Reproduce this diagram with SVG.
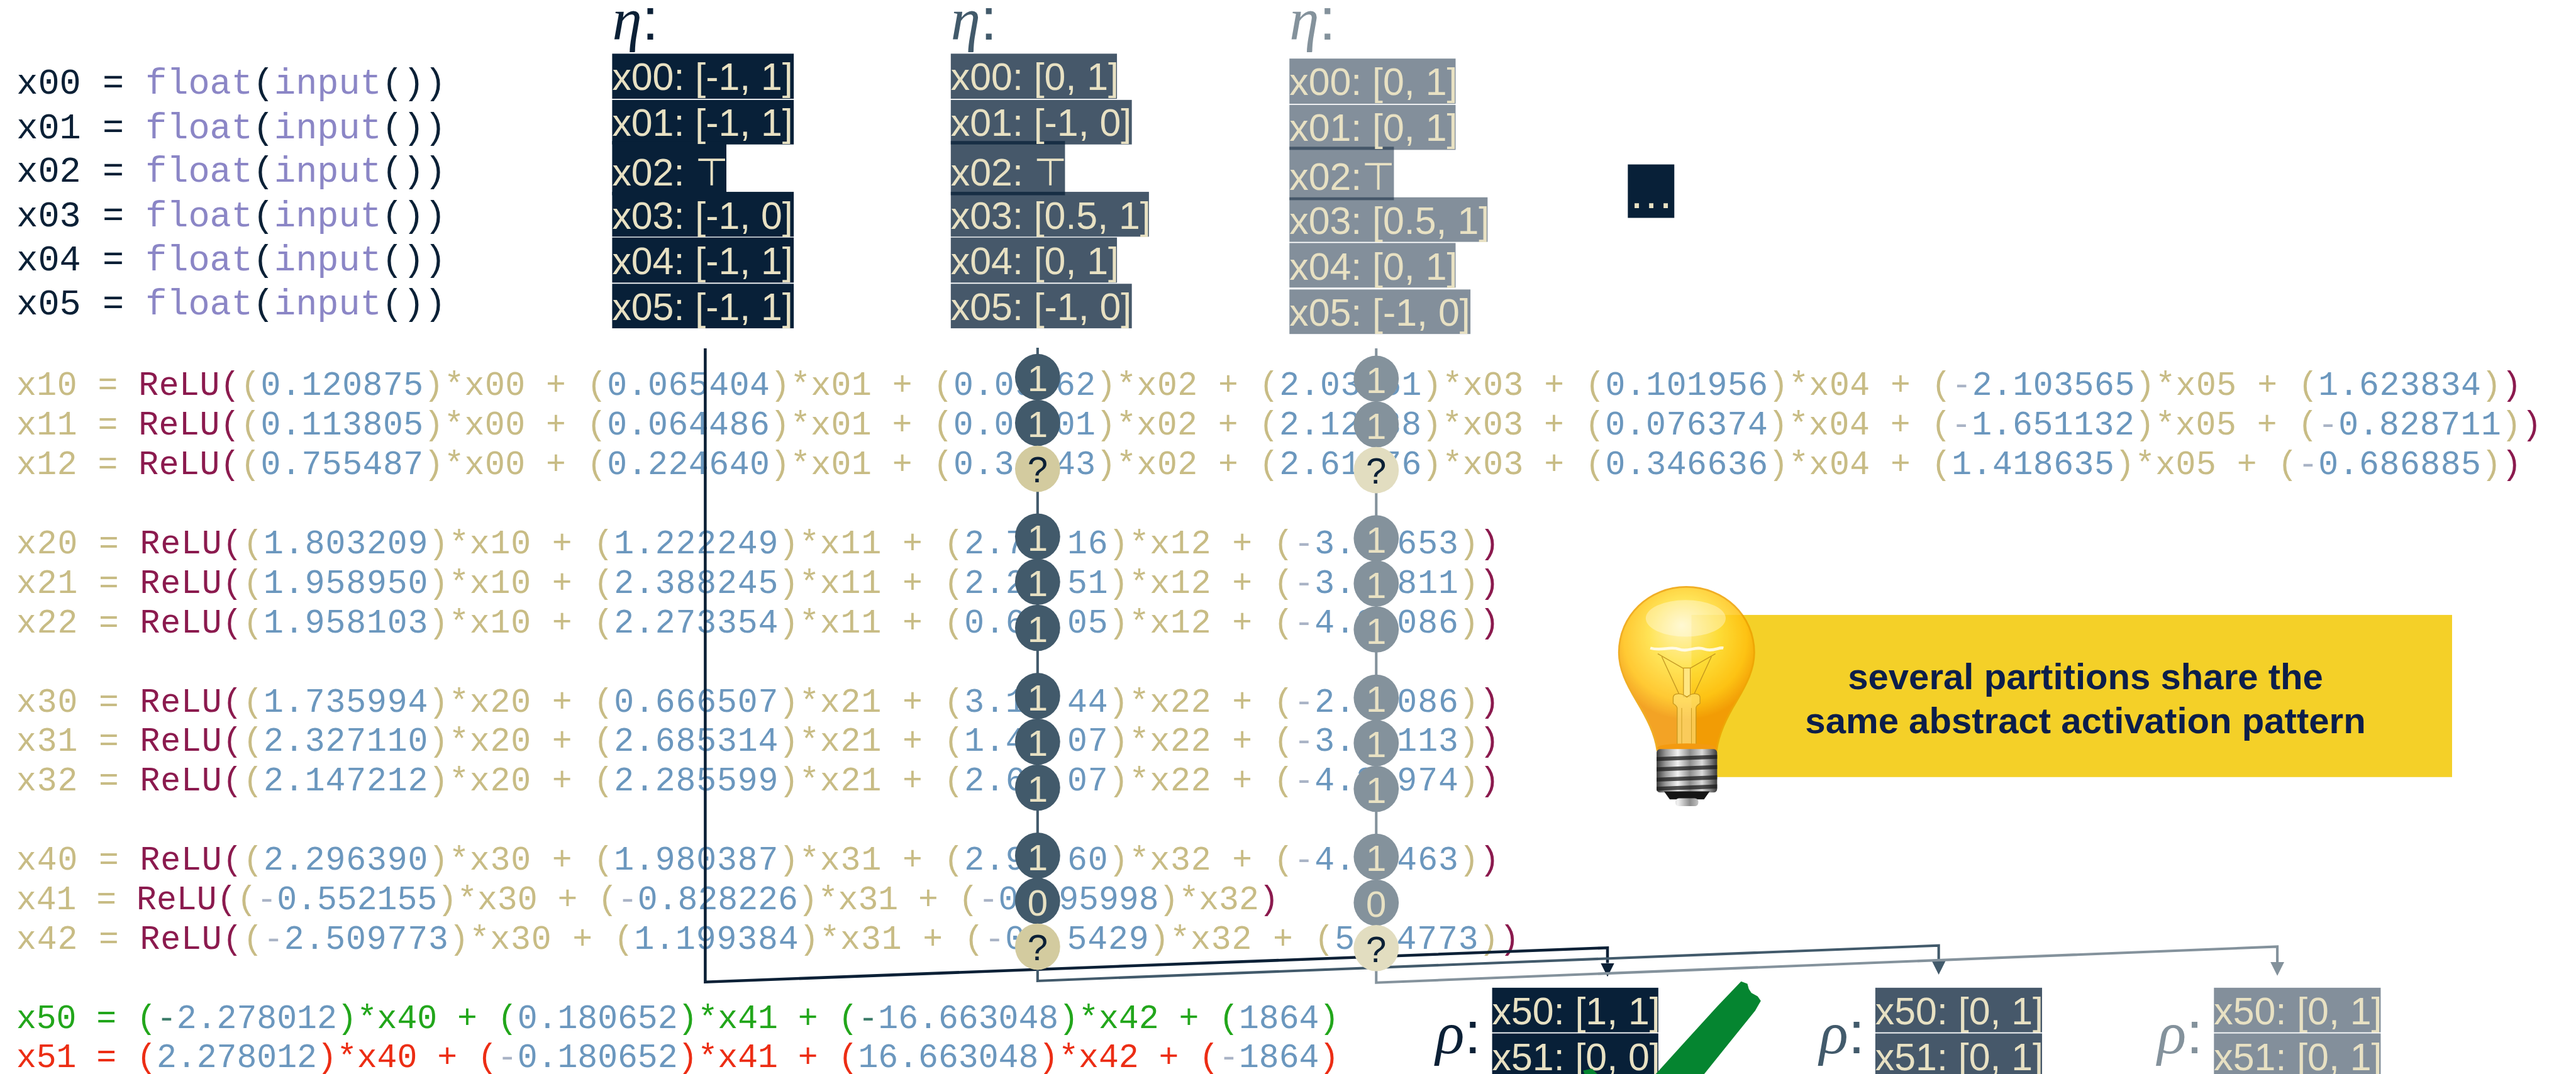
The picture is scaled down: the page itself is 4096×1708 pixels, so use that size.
<svg xmlns="http://www.w3.org/2000/svg" width="4096" height="1708" viewBox="0 0 4096 1708">
<defs>
<style>
.mono{font-family:"Liberation Mono","DejaVu Sans Mono",monospace;white-space:pre}
.inp{font-size:62.7px;fill:#0b2036}
.code{font-size:58.5px;fill:#c8bc85}
.fn{fill:#8b86c6}
.r{fill:#8b1a4e}
.n{fill:#6b97be}
.m{fill:#aab4c6}
.g{fill:#22a61b}
.gm{fill:#3e7d6b}
.rd{fill:#ec2d14}
.cv text{font-family:"Liberation Sans","DejaVu Sans",Arial,sans-serif;font-size:67px;fill:#e8e1c3;white-space:pre}
.lab{font-family:"Liberation Serif","DejaVu Serif",serif;font-style:italic;font-size:105px}
.colon{font-family:"Liberation Sans",Arial,sans-serif;font-style:normal}
.k1{fill:#082038}
.k2{fill:#082038;fill-opacity:0.75}
.k3{fill:#082038;fill-opacity:0.5}
.s1{fill:#0b2036}
.s2{fill:#425a6b}
.s3{fill:#84929c}
.bit text{font-family:"Liberation Sans",Arial,sans-serif;font-size:64px;text-anchor:middle}
.on2{fill:#425a6b}
.on3{fill:#84929c}
.q2{fill:#d3cb9f}
.q3{fill:#e2ddc0}
.lt{fill:#e8e1c3}
.dk{fill:#0b2036}
.wire{fill:none;stroke-linejoin:miter}
.note{font-family:"Liberation Sans",Arial,sans-serif;font-weight:bold;font-size:64px;fill:#0c1e4a;text-anchor:middle}
</style>
<marker id="ah1" markerUnits="userSpaceOnUse" markerWidth="24" markerHeight="24" viewBox="0 0 24 24" refX="0" refY="12" orient="auto"><path d="M0,0 L24,12 L0,24 Z" fill="#0b2036"/></marker>
<marker id="ah2" markerUnits="userSpaceOnUse" markerWidth="24" markerHeight="24" viewBox="0 0 24 24" refX="0" refY="12" orient="auto"><path d="M0,0 L24,12 L0,24 Z" fill="#425a6b"/></marker>
<marker id="ah3" markerUnits="userSpaceOnUse" markerWidth="24" markerHeight="24" viewBox="0 0 24 24" refX="0" refY="12" orient="auto"><path d="M0,0 L24,12 L0,24 Z" fill="#84929c"/></marker>
<radialGradient id="glass" gradientUnits="userSpaceOnUse" cx="2953" cy="1125" r="135" fx="2945" fy="1095">
<stop offset="0" stop-color="#fff4b0"/>
<stop offset="0.45" stop-color="#ffdf3a"/>
<stop offset="0.8" stop-color="#ffc010"/>
<stop offset="1" stop-color="#f29400"/>
</radialGradient>
<linearGradient id="metal" gradientUnits="userSpaceOnUse" x1="2901" y1="0" x2="3007" y2="0">
<stop offset="0" stop-color="#3a3a3a"/>
<stop offset="0.15" stop-color="#9a9a9a"/>
<stop offset="0.35" stop-color="#f2f2f2"/>
<stop offset="0.55" stop-color="#8c8c8c"/>
<stop offset="0.75" stop-color="#dadada"/>
<stop offset="1" stop-color="#3a3a3a"/>
</linearGradient>
</defs>
<rect width="4096" height="1708" fill="#ffffff"/>
<g transform="scale(0.908)">

<!-- input declarations -->
<g id="inputs" class="mono inp">
<text x="29" y="164.6" textLength="752" lengthAdjust="spacing">x00 = <tspan class="fn">float</tspan>(<tspan class="fn">input</tspan>())</text>
<text x="29" y="241.9" textLength="752" lengthAdjust="spacing">x01 = <tspan class="fn">float</tspan>(<tspan class="fn">input</tspan>())</text>
<text x="29" y="318.8" textLength="752" lengthAdjust="spacing">x02 = <tspan class="fn">float</tspan>(<tspan class="fn">input</tspan>())</text>
<text x="29" y="396" textLength="752" lengthAdjust="spacing">x03 = <tspan class="fn">float</tspan>(<tspan class="fn">input</tspan>())</text>
<text x="29" y="473.8" textLength="752" lengthAdjust="spacing">x04 = <tspan class="fn">float</tspan>(<tspan class="fn">input</tspan>())</text>
<text x="29" y="551" textLength="752" lengthAdjust="spacing">x05 = <tspan class="fn">float</tspan>(<tspan class="fn">input</tspan>())</text>
</g>

<!-- hidden layers: 35.1 units per character -->
<g id="layer1" class="mono code">
<text x="28.5" y="692" textLength="4387.5" lengthAdjust="spacing">x10 = <tspan class="r">ReLU(</tspan>(<tspan class="n">0.120875</tspan>)*x00 + (<tspan class="n">0.065404</tspan>)*x01 + (<tspan class="n">0.09  62</tspan>)*x02 + (<tspan class="n">2.03  51</tspan>)*x03 + (<tspan class="n">0.101956</tspan>)*x04 + (<tspan class="m">-</tspan><tspan class="n">2.103565</tspan>)*x05 + (<tspan class="n">1.623834</tspan>)<tspan class="r">)</tspan></text>
<text x="28.5" y="761" textLength="4422.6" lengthAdjust="spacing">x11 = <tspan class="r">ReLU(</tspan>(<tspan class="n">0.113805</tspan>)*x00 + (<tspan class="n">0.064486</tspan>)*x01 + (<tspan class="n">0.09  01</tspan>)*x02 + (<tspan class="n">2.12  38</tspan>)*x03 + (<tspan class="n">0.076374</tspan>)*x04 + (<tspan class="m">-</tspan><tspan class="n">1.651132</tspan>)*x05 + (<tspan class="m">-</tspan><tspan class="n">0.828711</tspan>)<tspan class="r">)</tspan></text>
<text x="28.5" y="830.5" textLength="4387.5" lengthAdjust="spacing">x12 = <tspan class="r">ReLU(</tspan>(<tspan class="n">0.755487</tspan>)*x00 + (<tspan class="n">0.224640</tspan>)*x01 + (<tspan class="n">0.34  43</tspan>)*x02 + (<tspan class="n">2.61  76</tspan>)*x03 + (<tspan class="n">0.346636</tspan>)*x04 + (<tspan class="n">1.418635</tspan>)*x05 + (<tspan class="m">-</tspan><tspan class="n">0.686885</tspan>)<tspan class="r">)</tspan></text>
</g>
<g id="layer2" class="mono code">
<text x="28.5" y="969.5" textLength="2597.4" lengthAdjust="spacing">x20 = <tspan class="r">ReLU(</tspan>(<tspan class="n">1.803209</tspan>)*x10 + (<tspan class="n">1.222249</tspan>)*x11 + (<tspan class="n">2.72  16</tspan>)*x12 + (<tspan class="m">-</tspan><tspan class="n">3.4  653</tspan>)<tspan class="r">)</tspan></text>
<text x="28.5" y="1038.5" textLength="2597.4" lengthAdjust="spacing">x21 = <tspan class="r">ReLU(</tspan>(<tspan class="n">1.958950</tspan>)*x10 + (<tspan class="n">2.388245</tspan>)*x11 + (<tspan class="n">2.24  51</tspan>)*x12 + (<tspan class="m">-</tspan><tspan class="n">3.8  811</tspan>)<tspan class="r">)</tspan></text>
<text x="28.5" y="1108" textLength="2597.4" lengthAdjust="spacing">x22 = <tspan class="r">ReLU(</tspan>(<tspan class="n">1.958103</tspan>)*x10 + (<tspan class="n">2.273354</tspan>)*x11 + (<tspan class="n">0.66  05</tspan>)*x12 + (<tspan class="m">-</tspan><tspan class="n">4.2  086</tspan>)<tspan class="r">)</tspan></text>
</g>
<g id="layer3" class="mono code">
<text x="28.5" y="1246.5" textLength="2597.4" lengthAdjust="spacing">x30 = <tspan class="r">ReLU(</tspan>(<tspan class="n">1.735994</tspan>)*x20 + (<tspan class="n">0.666507</tspan>)*x21 + (<tspan class="n">3.19  44</tspan>)*x22 + (<tspan class="m">-</tspan><tspan class="n">2.6  086</tspan>)<tspan class="r">)</tspan></text>
<text x="28.5" y="1315.5" textLength="2597.4" lengthAdjust="spacing">x31 = <tspan class="r">ReLU(</tspan>(<tspan class="n">2.327110</tspan>)*x20 + (<tspan class="n">2.685314</tspan>)*x21 + (<tspan class="n">1.42  07</tspan>)*x22 + (<tspan class="m">-</tspan><tspan class="n">3.6  113</tspan>)<tspan class="r">)</tspan></text>
<text x="28.5" y="1384.5" textLength="2597.4" lengthAdjust="spacing">x32 = <tspan class="r">ReLU(</tspan>(<tspan class="n">2.147212</tspan>)*x20 + (<tspan class="n">2.285599</tspan>)*x21 + (<tspan class="n">2.66  07</tspan>)*x22 + (<tspan class="m">-</tspan><tspan class="n">4.2  974</tspan>)<tspan class="r">)</tspan></text>
</g>
<g id="layer4" class="mono code">
<text x="28.5" y="1523" textLength="2597.4" lengthAdjust="spacing">x40 = <tspan class="r">ReLU(</tspan>(<tspan class="n">2.296390</tspan>)*x30 + (<tspan class="n">1.980387</tspan>)*x31 + (<tspan class="n">2.94  60</tspan>)*x32 + (<tspan class="m">-</tspan><tspan class="n">4.0  463</tspan>)<tspan class="r">)</tspan></text>
<text x="28.5" y="1592" textLength="2211.3" lengthAdjust="spacing">x41 = <tspan class="r">ReLU(</tspan>(<tspan class="m">-</tspan><tspan class="n">0.552155</tspan>)*x30 + (<tspan class="m">-</tspan><tspan class="n">0.828226</tspan>)*x31 + (<tspan class="m">-</tspan><tspan class="n">0. 95998</tspan>)*x32<tspan class="r">)</tspan></text>
<text x="28.5" y="1661.5" textLength="2632.5" lengthAdjust="spacing">x42 = <tspan class="r">ReLU(</tspan>(<tspan class="m">-</tspan><tspan class="n">2.509773</tspan>)*x30 + (<tspan class="n">1.199384</tspan>)*x31 + (<tspan class="m">-</tspan><tspan class="n">0.  5429</tspan>)*x32 + (<tspan class="n">5.  4773</tspan>)<tspan class="r">)</tspan></text>
</g>

<!-- output layer -->
<g id="outputs" class="mono code">
<text x="28.5" y="1801" class="g" textLength="2316.6" lengthAdjust="spacing">x50 = (<tspan class="gm">-</tspan><tspan class="n">2.278012</tspan>)*x40 + (<tspan class="n">0.180652</tspan>)*x41 + (<tspan class="gm">-</tspan><tspan class="n">16.663048</tspan>)*x42 + (<tspan class="n">1864</tspan>)</text>
<text x="28.5" y="1869" class="rd" textLength="2316.6" lengthAdjust="spacing">x51 = (<tspan class="n">2.278012</tspan>)*x40 + (<tspan class="m">-</tspan><tspan class="n">0.180652</tspan>)*x41 + (<tspan class="n">16.663048</tspan>)*x42 + (<tspan class="m">-</tspan><tspan class="n">1864</tspan>)</text>
</g>

<!-- input partitions (eta) -->
<g id="eta1">
<text class="lab s1" x="1072" y="69">η<tspan class="colon">:</tspan></text>
<g class="k1">
<rect x="1072" y="94" width="318" height="79"/>
<rect x="1072" y="175" width="318" height="78"/>
<rect x="1072" y="247" width="200" height="95"/>
<rect x="1072" y="336" width="318" height="78.5"/>
<rect x="1072" y="416" width="318" height="79"/>
<rect x="1072" y="497" width="318" height="78"/>
</g>
<g class="cv">
<text x="1072" y="157.7">x00: [-1, 1]</text>
<text x="1072" y="238">x01: [-1, 1]</text>
<text x="1072" y="324.5">x02: ⊤</text>
<text x="1072" y="401">x03: [-1, 0]</text>
<text x="1072" y="480">x04: [-1, 1]</text>
<text x="1072" y="560.6">x05: [-1, 1]</text>
</g>
</g>
<g id="eta2">
<text class="lab s2" x="1665" y="69">η<tspan class="colon">:</tspan></text>
<g class="k2">
<rect x="1665" y="94" width="291" height="79"/>
<rect x="1665" y="175" width="317" height="78"/>
<rect x="1665" y="247" width="200" height="95"/>
<rect x="1665" y="336" width="347" height="78.5"/>
<rect x="1665" y="416" width="291" height="79"/>
<rect x="1665" y="497" width="317" height="78"/>
</g>
<g class="cv">
<text x="1665" y="157.7">x00: [0, 1]</text>
<text x="1665" y="238">x01: [-1, 0]</text>
<text x="1665" y="324.5">x02: ⊤</text>
<text x="1665" y="401">x03: [0.5, 1]</text>
<text x="1665" y="480">x04: [0, 1]</text>
<text x="1665" y="560.6">x05: [-1, 0]</text>
</g>
</g>
<g id="eta3">
<text class="lab s3" x="2258" y="69">η<tspan class="colon">:</tspan></text>
<g class="k3">
<rect x="2258" y="102.6" width="291" height="79.2"/>
<rect x="2258" y="183.7" width="291" height="78.8"/>
<rect x="2258" y="257" width="183" height="93.6"/>
<rect x="2258" y="345.6" width="347" height="78"/>
<rect x="2258" y="425.6" width="291" height="78"/>
<rect x="2258" y="507" width="317" height="78"/>
</g>
<g class="cv">
<text x="2258" y="166.5">x00: [0, 1]</text>
<text x="2258" y="247">x01: [0, 1]</text>
<text x="2258" y="333">x02:⊤</text>
<text x="2258" y="410">x03: [0.5, 1]</text>
<text x="2258" y="490">x04: [0, 1]</text>
<text x="2258" y="570">x05: [-1, 0]</text>
</g>
</g>
<g id="more">
<rect class="k1" x="2850.6" y="288" width="81.4" height="93.6"/>
<text x="2851.7" y="365" font-family="Liberation Sans, Arial, sans-serif" font-size="80" fill="#e8e1c3">…</text>
</g>

<!-- connectors -->
<g id="connectors" class="wire">
<path d="M1235,610 V1720 L2815,1660 V1686.7" stroke="#0b2036" stroke-width="5" marker-end="url(#ah1)"/>
<path d="M1817,609 V1718 L3395,1656 V1683" stroke="#425a6b" stroke-width="4.5" marker-end="url(#ah2)"/>
<path d="M2410,610 V1721 L3988,1658 V1685" stroke="#84929c" stroke-width="4.5" marker-end="url(#ah3)"/>
</g>

<!-- activation pattern of the second partition -->
<g id="pattern2" class="bit">
<ellipse class="on2" cx="1817" cy="660.4" rx="39.5" ry="40.5"/><text class="lt" x="1817" y="685.4">1</text>
<ellipse class="on2" cx="1817" cy="740.7" rx="39.5" ry="40.5"/><text class="lt" x="1817" y="765.7">1</text>
<ellipse class="q2" cx="1817" cy="821" rx="39.5" ry="40.5"/><text class="dk" x="1817" y="845">?</text>
<ellipse class="on2" cx="1817" cy="939.7" rx="39.5" ry="40.5"/><text class="lt" x="1817" y="964.7">1</text>
<ellipse class="on2" cx="1817" cy="1019" rx="39.5" ry="40.5"/><text class="lt" x="1817" y="1044">1</text>
<ellipse class="on2" cx="1817" cy="1099.7" rx="39.5" ry="40.5"/><text class="lt" x="1817" y="1124.7">1</text>
<ellipse class="on2" cx="1817" cy="1219" rx="39.5" ry="40.5"/><text class="lt" x="1817" y="1244">1</text>
<ellipse class="on2" cx="1817" cy="1299" rx="39.5" ry="40.5"/><text class="lt" x="1817" y="1324">1</text>
<ellipse class="on2" cx="1817" cy="1379.4" rx="39.5" ry="40.5"/><text class="lt" x="1817" y="1404.4">1</text>
<ellipse class="on2" cx="1817" cy="1498.7" rx="39.5" ry="40.5"/><text class="lt" x="1817" y="1523.7">1</text>
<ellipse class="on2" cx="1817" cy="1578" rx="39.5" ry="40.5"/><text class="lt" x="1817" y="1603">0</text>
<ellipse class="q2" cx="1817" cy="1658" rx="39.5" ry="40.5"/><text class="dk" x="1817" y="1682">?</text>
</g>

<!-- activation pattern of the third partition -->
<g id="pattern3" class="bit">
<ellipse class="on3" cx="2410" cy="663.4" rx="39.5" ry="40.5"/><text class="lt" x="2410" y="688.4">1</text>
<ellipse class="on3" cx="2410" cy="743.4" rx="39.5" ry="40.5"/><text class="lt" x="2410" y="768.4">1</text>
<ellipse class="q3" cx="2410" cy="823.4" rx="39.5" ry="40.5"/><text class="dk" x="2410" y="847.4">?</text>
<ellipse class="on3" cx="2410" cy="942.8" rx="39.5" ry="40.5"/><text class="lt" x="2410" y="967.8">1</text>
<ellipse class="on3" cx="2410" cy="1022" rx="39.5" ry="40.5"/><text class="lt" x="2410" y="1047">1</text>
<ellipse class="on3" cx="2410" cy="1102.4" rx="39.5" ry="40.5"/><text class="lt" x="2410" y="1127.4">1</text>
<ellipse class="on3" cx="2410" cy="1222" rx="39.5" ry="40.5"/><text class="lt" x="2410" y="1247">1</text>
<ellipse class="on3" cx="2410" cy="1301.5" rx="39.5" ry="40.5"/><text class="lt" x="2410" y="1326.5">1</text>
<ellipse class="on3" cx="2410" cy="1381.7" rx="39.5" ry="40.5"/><text class="lt" x="2410" y="1406.7">1</text>
<ellipse class="on3" cx="2410" cy="1500.6" rx="39.5" ry="40.5"/><text class="lt" x="2410" y="1525.6">1</text>
<ellipse class="on3" cx="2410" cy="1581" rx="39.5" ry="40.5"/><text class="lt" x="2410" y="1606">0</text>
<ellipse class="q3" cx="2410" cy="1660.5" rx="39.5" ry="40.5"/><text class="dk" x="2410" y="1684.5">?</text>
</g>

<!-- output ranges (rho) -->
<g id="rho1">
<text class="lab s1" x="2514" y="1845">ρ<tspan class="colon">:</tspan></text>
<rect class="k1" x="2613" y="1730" width="291" height="78"/>
<rect class="k1" x="2613" y="1810" width="291" height="78"/>
<g class="cv">
<text x="2613" y="1794">x50: [1, 1]</text>
<text x="2613" y="1874">x51: [0, 0]</text>
</g>
</g>
<g id="rho2">
<text class="lab s2" x="3186" y="1845">ρ<tspan class="colon">:</tspan></text>
<rect class="k2" x="3284" y="1730" width="292" height="78"/>
<rect class="k2" x="3284" y="1810" width="292" height="78"/>
<g class="cv">
<text x="3284" y="1794">x50: [0, 1]</text>
<text x="3284" y="1874">x51: [0, 1]</text>
</g>
</g>
<g id="rho3">
<text class="lab s3" x="3778" y="1845">ρ<tspan class="colon">:</tspan></text>
<rect class="k3" x="3877" y="1730" width="292" height="78"/>
<rect class="k3" x="3877" y="1810" width="292" height="78"/>
<g class="cv">
<text x="3877" y="1794">x50: [0, 1]</text>
<text x="3877" y="1874">x51: [0, 1]</text>
</g>
</g>

<!-- green check mark -->
<g id="check" fill="#058530">
<path d="M3049,1719 L3060,1723 L3062.5,1732 L3067,1739 L3078,1745 L3083.5,1753 L3073.7,1770 L3033.5,1820 L2984.4,1881 L2899.6,1881 L2948.7,1826.7 L3006.7,1763.3 Z"/>
<path d="M2772.4,1875 L2788,1871.7 L2797,1881 L2774.6,1881 Z"/>
</g>

<!-- callout -->
<g id="note">
<rect x="2962" y="1077" width="1332" height="284" fill="#f4d028"/>
<text class="note" x="3652" y="1206.9">several partitions share the</text>
<text class="note" x="3652" y="1284.3">same abstract activation pattern</text>
</g>

<!-- light bulb -->
<g id="bulb">
<g opacity="0.85">
<path d="M2902,1314 C2898,1285 2884,1258 2866,1228 C2848,1198 2835,1172 2835,1143 C2835,1078 2888,1028 2953,1028 C3019,1028 3072,1078 3072,1143 C3072,1172 3059,1198 3041,1228 C3023,1258 3010,1285 3006,1314 Z" fill="url(#glass)" stroke="#eea000" stroke-width="3"/>
</g>
<ellipse cx="2952" cy="1083" rx="70" ry="32" fill="#ffffff" opacity="0.35"/>
<path d="M2890,1135 C2910,1141 2925,1131 2940,1137 C2955,1143 2970,1131 2985,1137 C3000,1142 3010,1133 3018,1135" fill="none" stroke="#ffffff" stroke-width="5" opacity="0.8"/>
<g fill="none" stroke="#b88a1a" stroke-width="1.6" opacity="0.8">
<path d="M2903,1145 L2950,1172 M3004,1145 L2957,1172 M2910,1150 L2940,1215 M2997,1150 L2967,1215"/>
</g>
<rect x="2948" y="1170" width="12" height="50" fill="#ffe680" stroke="#c99a1e" stroke-width="1.5"/>
<path d="M2930,1222 C2930,1213 2945,1213 2954,1221 C2962,1213 2977,1213 2977,1222 L2977,1232 C2972,1235 2970,1237 2970,1240 L2970,1308 L2937,1308 L2937,1240 C2937,1237 2934,1235 2930,1232 Z" fill="#ffe680" fill-opacity="0.6" stroke="#c99a1e" stroke-width="1.5"/>
<path d="M2945,1240 V1308 M2962,1240 V1308" stroke="#c99a1e" stroke-width="1"/>
<ellipse cx="2954" cy="1310" rx="52" ry="8" fill="#f39a10"/>
<rect x="2901" y="1312" width="106" height="76" rx="6" fill="url(#metal)"/>
<g fill="#1c1c1c" opacity="0.75">
<path d="M2901,1326 L3007,1322 L3007,1329 L2901,1333 Z"/>
<path d="M2901,1344 L3007,1340 L3007,1347 L2901,1351 Z"/>
<path d="M2901,1362 L3007,1358 L3007,1365 L2901,1369 Z"/>
<path d="M2901,1378 L3007,1374 L3007,1381 L2901,1385 Z"/>
</g>
<path d="M2914,1386 L2994,1386 L2984,1400 L2924,1400 Z" fill="#151515"/>
<rect x="2934" y="1398" width="40" height="14" rx="6" fill="url(#metal)"/>
</g>

</g>
</svg>
